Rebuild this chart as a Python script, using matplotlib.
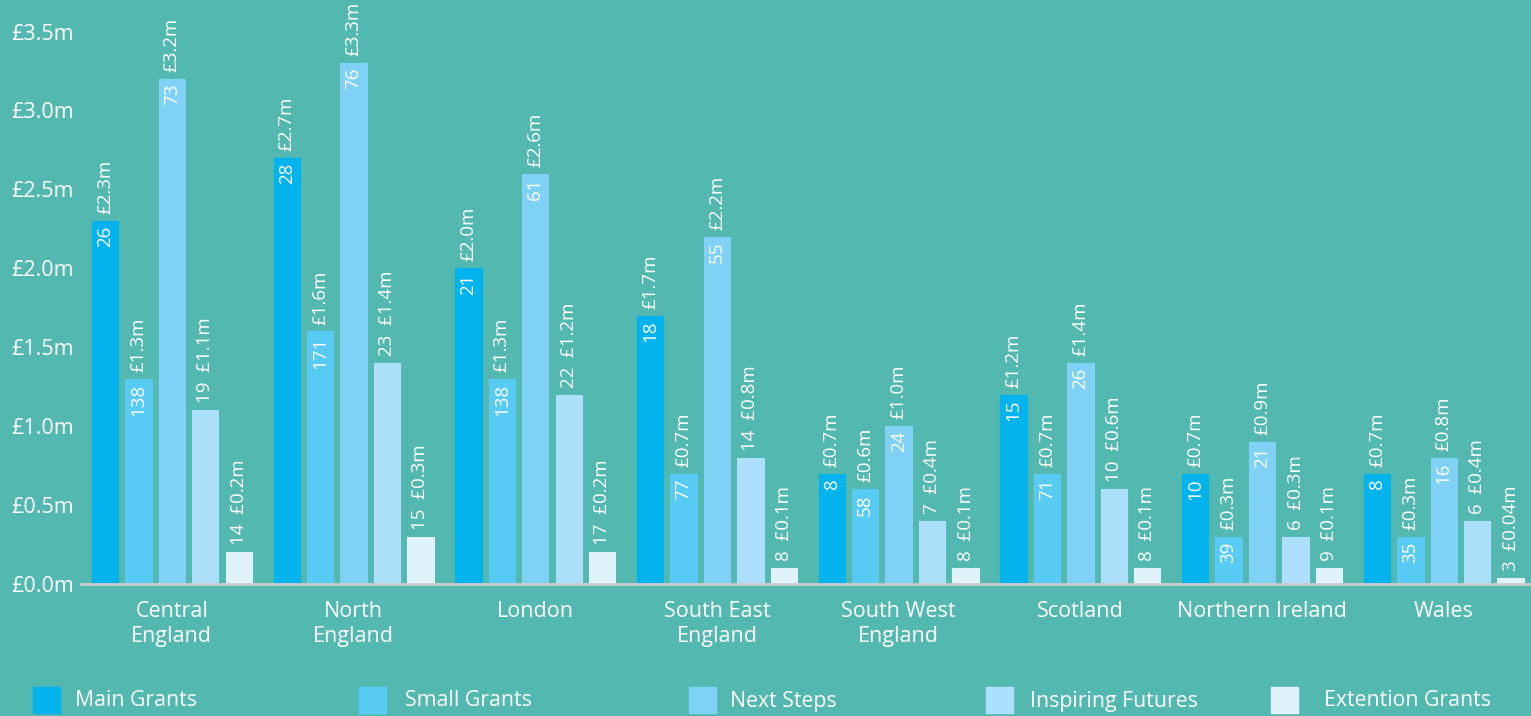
import numpy as np
import matplotlib
matplotlib.use('Agg')
import matplotlib.pyplot as plt
from matplotlib.patches import Rectangle

plt.rcParams['font.family'] = ['Open Sans', 'DejaVu Sans']

regions = ['Central\nEngland', 'North\nEngland', 'London', 'South East\nEngland',
           'South West\nEngland', 'Scotland', 'Northern Ireland', 'Wales']
series = ['Main Grants', 'Small Grants', 'Next Steps', 'Inspiring Futures', 'Extention Grants']

# amounts in £m
main_amt = [2.3, 2.7, 2.0, 1.7, 0.7, 1.2, 0.7, 0.7]
small_amt = [1.3, 1.6, 1.3, 0.7, 0.6, 0.7, 0.3, 0.3]
next_amt = [3.2, 3.3, 2.6, 2.2, 1.0, 1.4, 0.9, 0.8]
inspiring_amt = [1.1, 1.4, 1.2, 0.8, 0.4, 0.6, 0.3, 0.4]
extention_amt = [0.2, 0.3, 0.2, 0.1, 0.1, 0.1, 0.1, 0.04]

# number of grants
main_n = [26, 28, 21, 18, 8, 15, 10, 8]
small_n = [138, 171, 138, 77, 58, 71, 39, 35]
next_n = [73, 76, 61, 55, 24, 26, 21, 16]
inspiring_n = [19, 23, 22, 14, 7, 10, 6, 6]
extention_n = [14, 15, 17, 8, 8, 8, 9, 3]

amounts = [main_amt, small_amt, next_amt, inspiring_amt, extention_amt]
counts = [main_n, small_n, next_n, inspiring_n, extention_n]
colors = ['#03b3ed', '#57cbf3', '#7fd2f5', '#abdffa', '#e1f3fa']
bg = '#52b8b0'


def money(v):
    return '£%.1fm' % v if v >= 0.1 else '£%.2fm' % v


fig = plt.figure(figsize=(15.31, 7.16), dpi=100, facecolor=bg)
ax = fig.add_axes([81 / 1531, 1 - 584 / 716, 1450 / 1531, 584 / 716])
ax.set_facecolor(bg)

x = np.arange(len(regions))
width = 0.145
step = 0.184
fs = 13.5
for i, (amt, cnt, col) in enumerate(zip(amounts, counts, colors)):
    xs = x + (i - 2) * step
    ax.bar(xs, amt, width, color=col, edgecolor=col, linewidth=0.8, zorder=3)
    for xi, v, n in zip(xs, amt, cnt):
        if i < 3:
            # count sits inside the top of the bar, amount above it
            ax.annotate(str(n), (xi, v), xytext=(0, -3.5), textcoords='offset points',
                        rotation=90, ha='center', va='top', color='white', fontsize=fs, zorder=4)
            ax.annotate(money(v), (xi, v), xytext=(0, 5), textcoords='offset points',
                        rotation=90, ha='center', va='bottom', color='white', fontsize=fs, zorder=4)
        else:
            ax.annotate('%d  %s' % (n, money(v)), (xi, v), xytext=(0, 5), textcoords='offset points',
                        rotation=90, ha='center', va='bottom', color='white', fontsize=fs, zorder=4)

ax.set_xlim(-0.5, 7.48)
ax.set_ylim(0, 3.7)
ax.set_yticks(np.arange(0, 3.6, 0.5))
ax.set_yticklabels(['£%.1fm' % t for t in np.arange(0, 3.6, 0.5)])
ax.set_xticks(x)
ax.set_xticklabels(regions, linespacing=1.25)
ax.tick_params(axis='both', length=0, colors='white')
ax.tick_params(axis='y', pad=5, labelsize=15.5)
ax.tick_params(axis='x', pad=12.5, labelsize=15.5)
for s in ['top', 'right', 'left']:
    ax.spines[s].set_visible(False)
ax.spines['bottom'].set_color('#cccccc')
ax.spines['bottom'].set_linewidth(2)
ax.spines['bottom'].set_zorder(5)

# legend along the bottom edge
box_x = [33, 359, 689, 986, 1271]
text_x = [75, 405, 730, 1030, 1324]
for bx, tx, name, col in zip(box_x, text_x, series, colors):
    fig.patches.append(Rectangle((bx / 1531, 3 / 716), 27 / 1531, 26 / 716,
                                 transform=fig.transFigure, color=col))
    fig.text(tx / 1531, 15 / 716, name, color='white', fontsize=15.3, va='center', ha='left')

fig.savefig('out.png', dpi=100, facecolor=bg)
